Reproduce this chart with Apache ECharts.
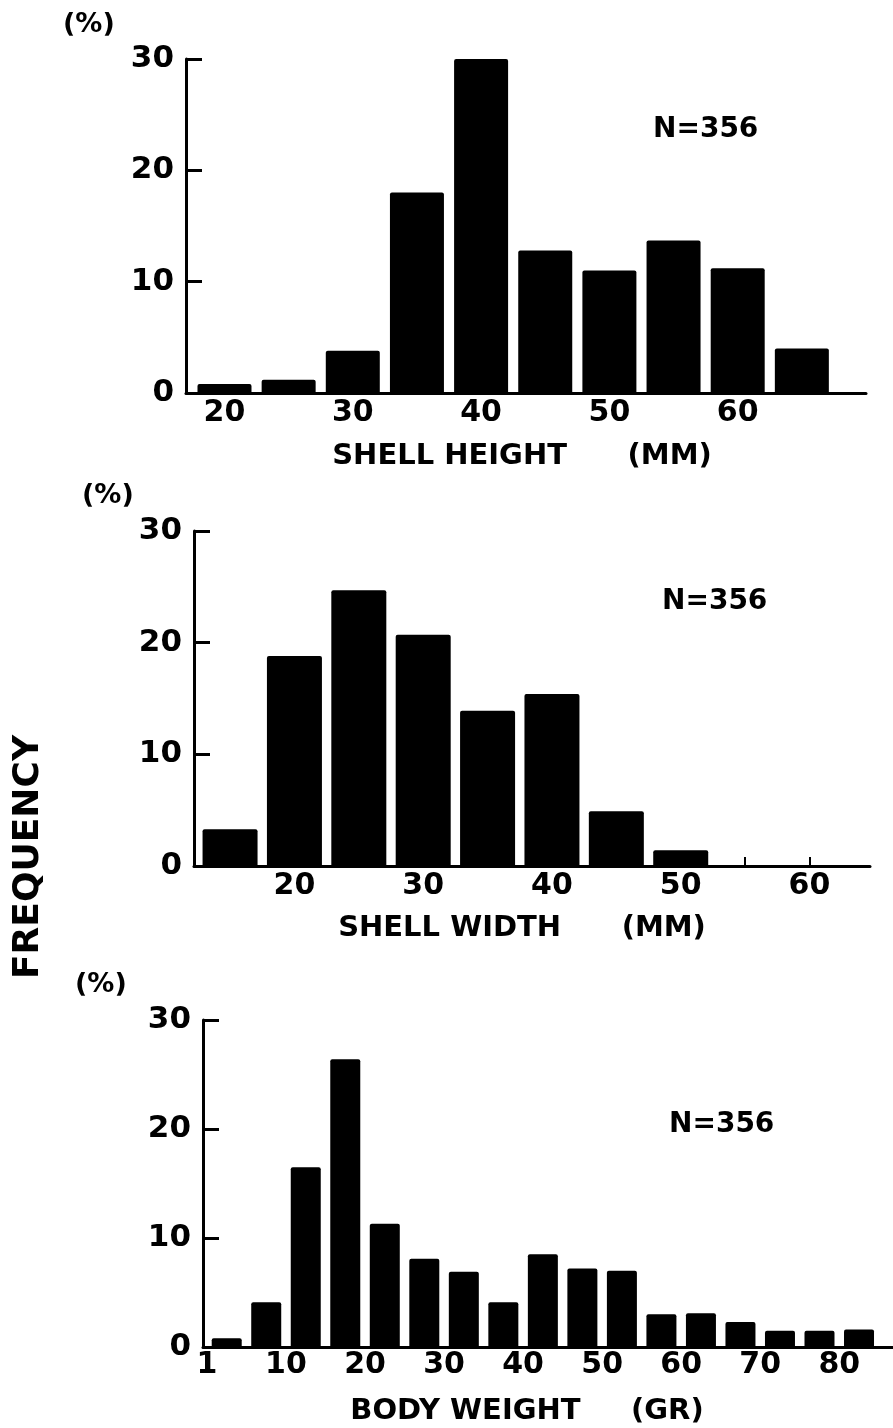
<!DOCTYPE html>
<html>
<head>
<meta charset="utf-8">
<script src="https://cdn.jsdelivr.net/npm/echarts@6/dist/echarts.min.js"></script>
<style>
html,body{margin:0;padding:0;background:#fff;}
#chart{width:893px;height:1428px;}
</style>
</head>
<body>
<div id="chart"></div>
<script>
// ---- data ----
var heightBins = [20, 25, 30, 35, 40, 45, 50, 55, 60, 65];            // bin centres (mm)
var heightPct  = [0.8, 1.2, 3.8, 18.0, 30.0, 12.8, 11.0, 13.7, 11.2, 4.0];
var heightTicks = [20, 30, 40, 50, 60];

var widthBins = [15, 20, 25, 30, 35, 40, 45, 50];                      // bin centres (mm)
var widthPct  = [3.3, 18.8, 24.7, 20.7, 13.9, 15.4, 4.9, 1.4];
var widthTicks = [20, 30, 40, 50, 60];
var widthMarks = [55, 60];                                             // small tick marks on the axis

var weightBins = [2.5, 7.5, 12.5, 17.5, 22.5, 27.5, 32.5, 37.5, 42.5, 47.5, 52.5, 57.5, 62.5, 67.5, 72.5, 77.5, 82.5];
var weightPct  = [0.8, 4.1, 16.5, 26.4, 11.3, 8.1, 6.9, 4.1, 8.5, 7.2, 7.0, 3.0, 3.1, 2.3, 1.5, 1.5, 1.6];
var weightTickValues = [0, 10, 20, 30, 40, 50, 60, 70, 80];
var weightTickLabels = ['1', '10', '20', '30', '40', '50', '60', '70', '80'];

var yTicks = [0, 10, 20, 30];
var nLabel = 'N=356';

// ---- layout ----
var FONT = 'DejaVu Sans';
var panels = [
  {left: 186, width: 680, top: 59,   height: 334, min: 17,   max: 70,   bin: 5, frac: 0.84,
   bins: heightBins, vals: heightPct, name: 'SHELL HEIGHT      (MM)', shift: 8,  gap: 49},
  {left: 194, width: 676, top: 531,  height: 335, min: 12.2, max: 64.7, bin: 5, frac: 0.86,
   bins: widthBins, vals: widthPct, name: 'SHELL WIDTH      (MM)', shift: 20, gap: 48},
  {left: 203, width: 690, top: 1020, height: 327, min: -0.5, max: 86.8, bin: 5, frac: 0.76,
   bins: weightBins, vals: weightPct, name: 'BODY WEIGHT     (GR)', shift: 42, gap: 50}
];

var grids = [], xAxes = [], yAxes = [], series = [];
panels.forEach(function (p, i) {
  grids.push({left: p.left, top: p.top, width: p.width, height: p.height, containLabel: false});
  var pxPerUnit = p.width / (p.max - p.min);
  var xa = {
    type: 'value', gridIndex: i, min: p.min, max: p.max,
    splitLine: {show: false},
    axisLine: {show: true, lineStyle: {color: '#000', width: 3}},
    axisTick: {show: false},
    axisLabel: {
      color: '#000', fontFamily: FONT, fontWeight: 'bold', fontSize: 30, margin: i === 2 ? 3 : 5,
      customValues: i === 0 ? heightTicks : (i === 1 ? widthTicks : weightTickValues)
    },
    name: p.name, nameLocation: 'middle', nameGap: p.gap,
    nameTextStyle: {color: '#000', fontFamily: FONT, fontWeight: 'bold', fontSize: 29,
                    padding: [0, p.shift, 0, 0]}
  };
  if (i === 2) {
    xa.axisLabel.formatter = function (v) {
      var k = weightTickValues.indexOf(v);
      return k >= 0 ? weightTickLabels[k] : '';
    };
  }
  if (i === 1) {
    xa.axisTick = {show: true, inside: true, length: 9, customValues: widthMarks,
                   lineStyle: {color: '#000', width: 2}};
  }
  xAxes.push(xa);
  yAxes.push({
    type: 'value', gridIndex: i, min: 0, max: 30, interval: 10,
    splitLine: {show: false},
    axisLine: {show: true, onZero: false, lineStyle: {color: '#000', width: 3}},
    axisTick: {show: true, inside: true, length: 16, lineStyle: {color: '#000', width: 3}},
    axisLabel: {color: '#000', fontFamily: FONT, fontWeight: 'bold', fontSize: 31, margin: 12}
  });
  series.push({
    type: 'bar', xAxisIndex: i, yAxisIndex: i,
    barWidth: Math.round(p.frac * p.bin * pxPerUnit),
    itemStyle: {color: '#000', borderRadius: [2, 2, 0, 0]},
    data: p.bins.map(function (b, k) { return [b, p.vals[k]]; }),
    silent: true, animation: false
  });
});

var graphics = [
  {type: 'text', left: 63, top: 11, style: {text: '(%)', font: 'bold 27px "DejaVu Sans"', fill: '#000'}},
  {type: 'text', left: 82, top: 482, style: {text: '(%)', font: 'bold 27px "DejaVu Sans"', fill: '#000'}},
  {type: 'text', left: 75, top: 971, style: {text: '(%)', font: 'bold 27px "DejaVu Sans"', fill: '#000'}},
  {type: 'text', x: 653, y: 130, style: {text: nLabel, font: 'bold 28px "DejaVu Sans"', fill: '#000', verticalAlign: 'middle'}},
  {type: 'text', x: 662, y: 602, style: {text: nLabel, font: 'bold 28px "DejaVu Sans"', fill: '#000', verticalAlign: 'middle'}},
  {type: 'text', x: 669, y: 1125, style: {text: nLabel, font: 'bold 28px "DejaVu Sans"', fill: '#000', verticalAlign: 'middle'}},
  {type: 'text', x: 29, y: 857, rotation: Math.PI / 2,
   style: {text: 'FREQUENCY', font: 'bold 36px "DejaVu Sans"', fill: '#000', align: 'center', verticalAlign: 'middle'}}
];

var chart = echarts.init(document.getElementById('chart'), null, {renderer: 'canvas'});
chart.setOption({
  backgroundColor: '#fff',
  animation: false,
  grid: grids,
  xAxis: xAxes,
  yAxis: yAxes,
  series: series,
  graphic: graphics
});
</script>
</body>
</html>
